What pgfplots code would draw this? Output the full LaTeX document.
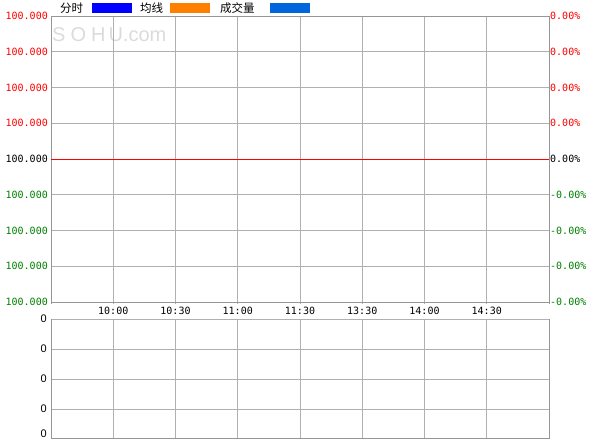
\documentclass[border=0pt]{standalone}
\usepackage{pgfplots}
\pgfplotsset{compat=1.18}
\usepackage{fontspec}
\setmainfont{DejaVu Sans Mono}
\newfontfamily\cjk{Noto Sans CJK SC}
\newfontfamily\wm{Liberation Sans}
\definecolor{gridc}{RGB}{176,176,176}
\definecolor{borderc}{RGB}{150,150,150}
\definecolor{upred}{RGB}{255,0,0}
\definecolor{dngreen}{RGB}{0,128,0}
\definecolor{lgA}{RGB}{0,0,255}
\definecolor{lgB}{RGB}{255,128,0}
\definecolor{lgC}{RGB}{0,102,221}
\begin{document}
\begin{tikzpicture}[x=1pt,y=1pt]
\path[use as bounding box] (0,0) rectangle (600,440);
\node[anchor=west, inner sep=0pt, text=black!14, font=\wm\fontsize{20}{20}\selectfont] at (52,405) {S\hspace{5pt}O\hspace{5pt}H\hspace{3pt}U.com};
% bottom volume axis
\begin{axis}[
  at={(51pt,138pt)}, anchor=north west, scale only axis,
  width=498pt, height=136pt,
  xmin=0, xmax=8, ymin=0, ymax=136,
  xtick={1,...,7}, xticklabels={},
  ytick={29,59,89,119}, yticklabels={0,0,0,0},
  extra y ticks={4}, extra y tick labels={0},
  extra y tick style={grid=none},
  /pgf/number format/assume math mode=true,
  grid=major, grid style={gridc, line width=0.8pt},
  axis line style={borderc, line width=0.8pt},
  major tick length=0pt,
  tick label style={font=\wm\fontsize{11}{11}\selectfont},
  yticklabel style={anchor=east, inner sep=0pt, xshift=-4pt},
]
\end{axis}
% top price axis
\begin{axis}[
  at={(51pt,424pt)}, anchor=north west, scale only axis,
  width=498pt, height=286pt,
  xmin=0, xmax=8, ymin=-4, ymax=4,
  xtick={0,...,8}, ytick={-4,...,4},
  xticklabels={,10:00,10:30,11:00,11:30,13:30,14:00,14:30,},
  yticklabels={{\color{dngreen}100.000},{\color{dngreen}100.000},{\color{dngreen}100.000},{\color{dngreen}100.000},{\color{black}100.000},{\color{upred}100.000},{\color{upred}100.000},{\color{upred}100.000},{\color{upred}100.000}},
  /pgf/number format/assume math mode=true,
  grid=major, grid style={gridc, line width=0.8pt},
  axis line style={borderc, line width=0.8pt},
  major tick length=0pt,
  tick label style={font=\fontsize{10}{10}\selectfont},
  yticklabel style={anchor=east, inner sep=0pt, xshift=-3pt},
  xticklabel style={anchor=center, inner xsep=2pt, inner ysep=0pt, minimum height=15pt, fill=white, yshift=-9pt},
  clip=false,
]
\addplot[upred, line width=0.8pt] coordinates {(0,0) (8,0)};
\end{axis}
% right percent labels
\begin{axis}[
  at={(51pt,424pt)}, anchor=north west, scale only axis,
  width=498pt, height=286pt,
  xmin=0, xmax=8, ymin=-4, ymax=4,
  xtick=\empty, ytick={-4,...,4},
  yticklabel pos=right,
  yticklabels={{\color{dngreen}-0.00\%},{\color{dngreen}-0.00\%},{\color{dngreen}-0.00\%},{\color{dngreen}-0.00\%},{\color{black}0.00\%},{\color{upred}0.00\%},{\color{upred}0.00\%},{\color{upred}0.00\%},{\color{upred}0.00\%}},
  /pgf/number format/assume math mode=true,
  axis line style={draw=none},
  major tick length=0pt,
  tick label style={font=\fontsize{10}{10}\selectfont},
  yticklabel style={anchor=west, inner sep=0pt, xshift=1pt},
]
\end{axis}
% header legend
\node[anchor=west, inner sep=0pt, font=\cjk\fontsize{11.5}{11.5}\selectfont] at (60,432) {分时};
\fill[lgA] (92,427) rectangle (132,437);
\node[anchor=west, inner sep=0pt, font=\cjk\fontsize{11.5}{11.5}\selectfont] at (140,432) {均线};
\fill[lgB] (170,427) rectangle (210,437);
\node[anchor=west, inner sep=0pt, font=\cjk\fontsize{11.5}{11.5}\selectfont] at (220,432) {成交量};
\fill[lgC] (270,427) rectangle (310,437);
\end{tikzpicture}
\end{document}
